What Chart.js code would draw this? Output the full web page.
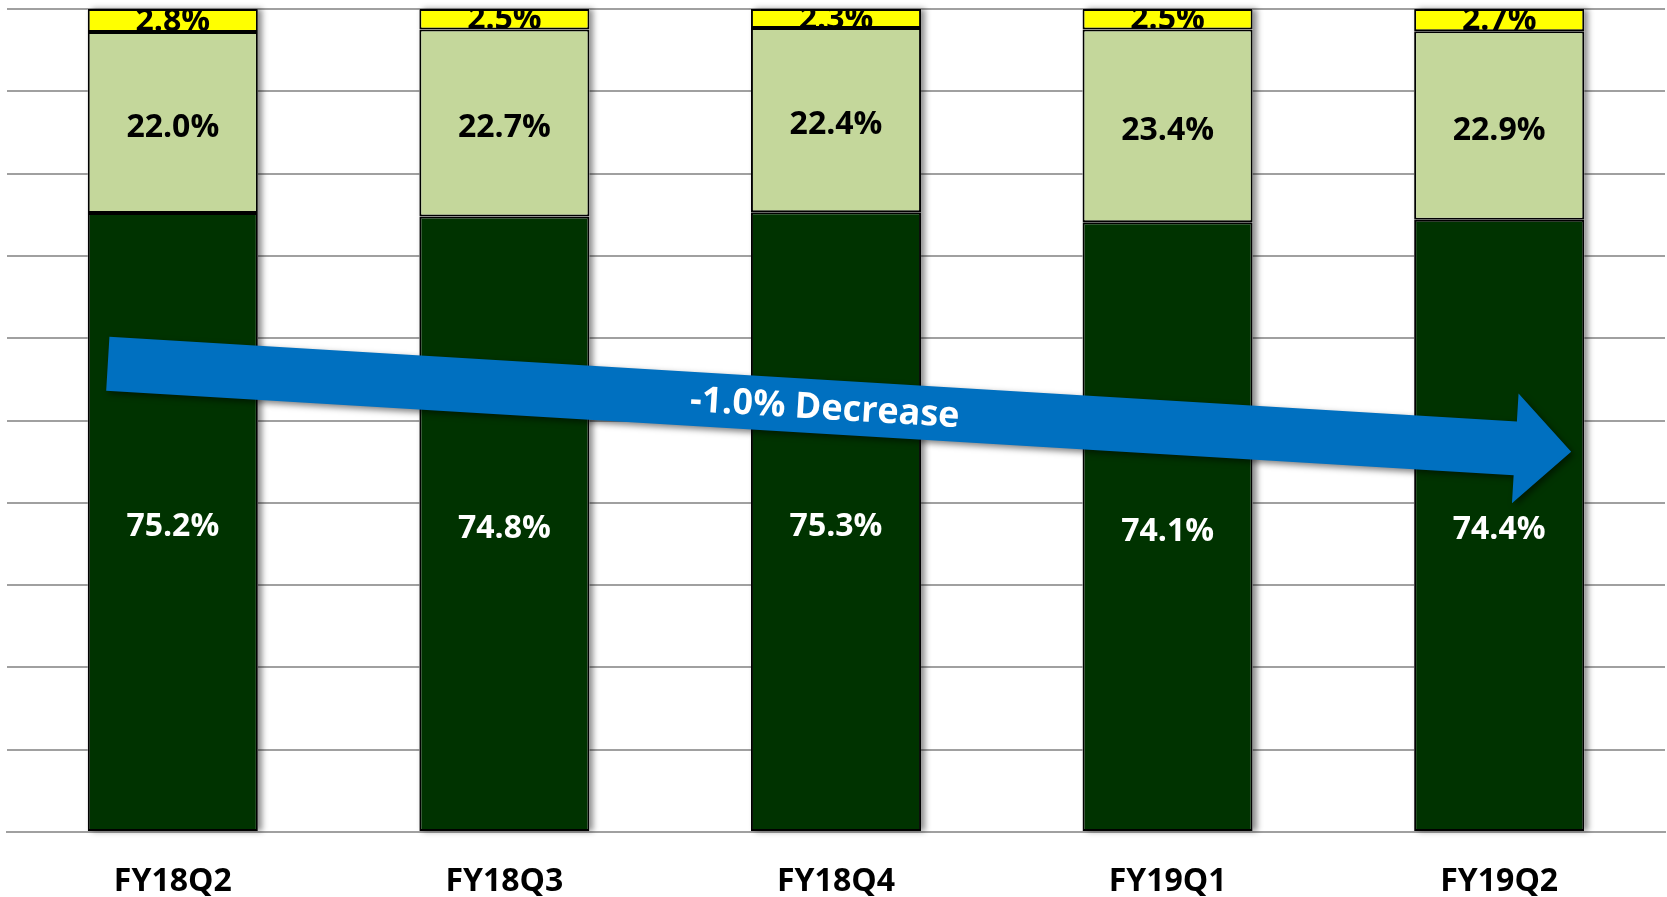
<!DOCTYPE html>
<html>
<head>
<meta charset="utf-8">
<script src="https://cdn.jsdelivr.net/npm/chart.js@4"></script>
<style>
  html, body { margin: 0; padding: 0; background: #fff; }
  #wrap { width: 1667px; height: 897px; }
</style>
</head>
<body>
<div id="wrap"><canvas id="shareChart"></canvas></div>
<script>
const categories = ["FY18Q2", "FY18Q3", "FY18Q4", "FY19Q1", "FY19Q2"];
const darkShare = [75.2, 74.8, 75.3, 74.1, 74.4];
const lightShare = [22.0, 22.7, 22.4, 23.4, 22.9];
const yellowShare = [2.8, 2.5, 2.3, 2.5, 2.7];
const yMax = 100;
const yStep = 10;

// trend arrow, in axis units (category index, percent)
const arrowFrom = { x: -0.196, y: 56.9 };
const arrowTo = { x: 4.217, y: 46.2 };
const arrowText = "-1.0% Decrease";

const labelFont = "bold 32px 'Open Sans'";

// drop shadow behind each full stacked bar
const barShadow = {
    id: "barShadow",
    beforeDatasetsDraw(chart) {
        const ctx = chart.ctx;
        const bottoms = chart.getDatasetMeta(0).data;
        const tops = chart.getDatasetMeta(chart.data.datasets.length - 1).data;
        ctx.save();
        ctx.shadowColor = "rgba(0,0,0,0.45)";
        ctx.shadowBlur = 6;
        ctx.shadowOffsetX = 4;
        ctx.fillStyle = "#fff";
        bottoms.forEach((bar, i) => {
            const top = tops[i].y;
            ctx.fillRect(bar.x - bar.width / 2, top, bar.width, bar.base - top);
        });
        ctx.restore();
    },
};

// centred value labels, clipped to their segment
const segmentLabels = {
    id: "segmentLabels",
    afterDatasetsDraw(chart) {
        const ctx = chart.ctx;
        chart.data.datasets.forEach((ds, di) => {
            chart.getDatasetMeta(di).data.forEach((bar, i) => {
                const top = Math.min(bar.y, bar.base);
                const h = Math.abs(bar.base - bar.y);
                ctx.save();
                ctx.beginPath();
                ctx.rect(bar.x - bar.width / 2, top, bar.width, h);
                ctx.clip();
                ctx.fillStyle = ds.labelColor;
                ctx.font = labelFont;
                ctx.textAlign = "center";
                ctx.textBaseline = "middle";
                ctx.fillText(ds.data[i].toFixed(1) + "%", bar.x, top + h / 2 + ds.labelShift);
                ctx.restore();
            });
        });
    },
};

const trendArrow = {
    id: "trendArrow",
    afterDraw(chart) {
        const { ctx, scales } = chart;
        const x0 = scales.x.getPixelForValue(arrowFrom.x);
        const y0 = scales.y.getPixelForValue(arrowFrom.y);
        const x1 = scales.x.getPixelForValue(arrowTo.x);
        const y1 = scales.y.getPixelForValue(arrowTo.y);
        const len = Math.hypot(x1 - x0, y1 - y0);
        const ang = Math.atan2(y1 - y0, x1 - x0);
        const hw = 27; // half shaft
        const headLen = 56;
        const headHalf = 55;

        ctx.save();
        ctx.translate(x0, y0);
        ctx.rotate(ang);
        ctx.shadowColor = "rgba(0,0,0,0.5)";
        ctx.shadowBlur = 6;
        ctx.shadowOffsetX = 3;
        ctx.shadowOffsetY = 3;
        ctx.fillStyle = "#0070C0";
        ctx.beginPath();
        ctx.moveTo(0, -hw);
        ctx.lineTo(len - headLen, -hw);
        ctx.lineTo(len - headLen, -headHalf);
        ctx.lineTo(len, 0);
        ctx.lineTo(len - headLen, headHalf);
        ctx.lineTo(len - headLen, hw);
        ctx.lineTo(0, hw);
        ctx.closePath();
        ctx.fill();
        ctx.shadowColor = "transparent";

        ctx.fillStyle = "#fff";
        ctx.font = "bold 36px 'Open Sans'";
        ctx.textAlign = "center";
        ctx.textBaseline = "middle";
        ctx.fillText(arrowText, len * 0.49, 2);
        ctx.restore();
    },
};

new Chart(document.getElementById("shareChart"), {
    type: "bar",
    data: {
        labels: categories,
        datasets: [
            {
                data: darkShare,
                backgroundColor: "#003300",
                labelColor: "#fff",
                labelShift: 5,
            },
            {
                data: lightShare,
                backgroundColor: "#C4D79B",
                labelColor: "#000",
                labelShift: 5,
            },
            {
                data: yellowShare,
                backgroundColor: "#FFFF00",
                labelColor: "#000",
                labelShift: 1,
            },
        ].map((d) => ({
            ...d,
            borderColor: "#000",
            borderWidth: 2,
            borderSkipped: false,
            categoryPercentage: 1,
            barPercentage: 0.513,
        })),
    },
    options: {
        responsive: true,
        maintainAspectRatio: false,
        animation: false,
        layout: { padding: { top: 9, left: 7, right: 2, bottom: 0 } },
        plugins: {
            legend: { display: false },
            tooltip: { enabled: false },
        },
        scales: {
            x: {
                stacked: true,
                grid: { display: false, drawTicks: false },
                border: { color: "#A0A0A0", width: 2 },
                ticks: {
                    color: "#000",
                    padding: 31,
                    font: { family: "'Open Sans'", size: 32, weight: "bold" },
                },
                afterFit(scale) {
                    scale.height = 65;
                },
            },
            y: {
                stacked: true,
                min: 0,
                max: yMax,
                ticks: { display: false, stepSize: yStep },
                grid: { color: "#A0A0A0", lineWidth: 2, drawTicks: false },
                border: { display: false },
            },
        },
    },
    plugins: [barShadow, segmentLabels, trendArrow],
});
</script>
</body>
</html>
